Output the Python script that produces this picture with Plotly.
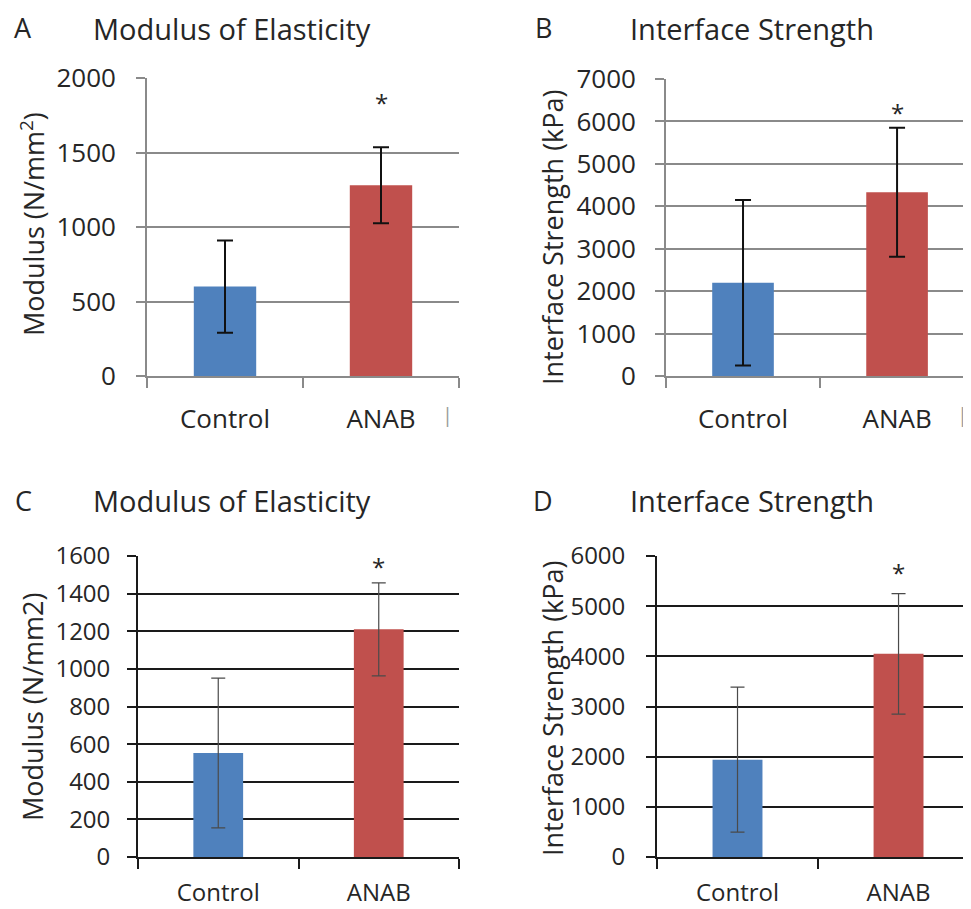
import plotly.graph_objects as go

# ---------------- data ----------------
categories = ["Control", "ANAB"]

a_means = [600, 1280]
a_err = [310, 255]
a_star = 1860

b_means = [2200, 4330]
b_err = [1950, 1520]
b_star = 6310

c_means = [553, 1210]
c_err = [398, 247]
c_star = 1563

d_means = [1940, 4050]
d_err = [1445, 1200]
d_star = 5760

bar_colors = ["#4F81BD", "#C0504D"]

panel_letters = ["A", "B", "C", "D"]
panel_titles = ["Modulus of Elasticity", "Interface Strength",
                "Modulus of Elasticity", "Interface Strength"]
y_titles = ["Modulus (N/mm<sup>2</sup>)", "Interface Strength (kPa)",
            "Modulus (N/mm2)", "Interface Strength (kPa)"]

# ---------------- layout helpers ----------------
OFF = 8                      # page body margin of the exported html
W, H = 971 - OFF, 909 - OFF  # figure size so that it ends at the window edge
FONT = "Open Sans"
TXT = "#262626"


def fx(p):
    return (p - OFF) / W


def fy(p):
    return 1 - (p - OFF) / H


panels = [
    dict(means=a_means, err=a_err, star=a_star, ymax=2000, dtick=500,
         xdom=[fx(147), fx(459)], ydom=[fy(376), fy(78)], xr=[-0.5, 1.5],
         grid="#8a8a8a", errc="#111111", errw=2.0, capw=8, barw=0.40,
         tfs=26, xfs=26, ystand=15, xstand=19),
    dict(means=b_means, err=b_err, star=b_star, ymax=7000, dtick=1000,
         xdom=[fx(666), 1.0], ydom=[fy(376), fy(79)], xr=[-0.5, 1.48],
         grid="#8a8a8a", errc="#111111", errw=2.0, capw=8, barw=0.40,
         tfs=26, xfs=26, ystand=14, xstand=19),
    dict(means=c_means, err=c_err, star=c_star, ymax=1600, dtick=200,
         xdom=[fx(138), fx(459)], ydom=[fy(857), fy(556)], xr=[-0.5, 1.5],
         grid="#1a1a1a", errc="#4a4a4a", errw=1.2, capw=7, barw=0.31,
         tfs=24, xfs=24, ystand=12, xstand=13),
    dict(means=d_means, err=d_err, star=d_star, ymax=6000, dtick=1000,
         xdom=[fx(657), 1.0], ydom=[fy(857), fy(556)], xr=[-0.5, 1.45],
         grid="#1a1a1a", errc="#4a4a4a", errw=1.2, capw=7, barw=0.31,
         tfs=24, xfs=24, ystand=16, xstand=13),
]

fig = go.Figure()
layout = dict(
    width=W, height=H, margin=dict(l=0, r=0, t=0, b=0, pad=0),
    paper_bgcolor="white", plot_bgcolor="white", showlegend=False,
    font=dict(family=FONT, color=TXT),
)
annotations = []

letter_pos = [(23, 27), (543, 27), (23, 500), (543, 500)]
title_pos = [(232, 28), (752, 28), (232, 500), (752, 500)]
ytitle_pos = [(32, 224), (552, 237), (32, 707), (552, 708)]

for i, p in enumerate(panels):
    sfx = "" if i == 0 else str(i + 1)
    xa, ya = "x" + sfx, "y" + sfx
    fig.add_trace(go.Bar(
        x=categories, y=p["means"], width=p["barw"],
        marker=dict(color=bar_colors, line=dict(width=0)),
        error_y=dict(type="data", array=p["err"], visible=True,
                     color=p["errc"], thickness=p["errw"], width=p["capw"]),
        xaxis=xa, yaxis=ya, hoverinfo="skip",
    ))
    layout["xaxis" + sfx] = dict(
        domain=p["xdom"], anchor=ya, type="category", range=p["xr"],
        automargin=False,
        showline=True, linecolor=p["grid"], linewidth=1.8,
        ticks="outside", tickson="boundaries", ticklen=10,
        tickcolor=p["grid"], tickwidth=1.8, showgrid=False,
        tickfont=dict(size=p["xfs"], color=TXT, family=FONT),
        ticklabelstandoff=p["xstand"],
    )
    layout["yaxis" + sfx] = dict(
        domain=p["ydom"], anchor=xa, range=[0, p["ymax"]], dtick=p["dtick"],
        automargin=False,
        showline=True, linecolor=p["grid"], linewidth=1.8,
        ticks="outside", ticklen=9, tickcolor=p["grid"], tickwidth=1.8,
        showgrid=True, gridcolor=p["grid"], gridwidth=1.8, zeroline=False,
        tickfont=dict(size=p["tfs"], color=TXT, family=FONT),
        ticklabelstandoff=p["ystand"],
    )
    # asterisk above ANAB
    annotations.append(dict(
        x=categories[1], y=p["star"], xref=xa, yref=ya, text="*",
        showarrow=False, font=dict(size=24, color=TXT, family=FONT),
        yanchor="middle", yshift=-4,
    ))
    lx, ly = letter_pos[i]
    annotations.append(dict(
        x=fx(lx), y=fy(ly), xref="paper", yref="paper", text=panel_letters[i],
        showarrow=False, font=dict(size=27, color=TXT, family=FONT),
        xanchor="center", yanchor="middle",
    ))
    tx, ty = title_pos[i]
    annotations.append(dict(
        x=fx(tx), y=fy(ty), xref="paper", yref="paper", text=panel_titles[i],
        showarrow=False, font=dict(size=29, color=TXT, family=FONT),
        xanchor="center", yanchor="middle",
    ))
    yx, yy = ytitle_pos[i]
    annotations.append(dict(
        x=fx(yx), y=fy(yy), xref="paper", yref="paper", text=y_titles[i],
        showarrow=False, textangle=-90,
        font=dict(size=27, color=TXT, family=FONT),
        xanchor="center", yanchor="middle",
    ))

# stray cut-off label marks in the top row
for sx in (447, 962):
    annotations.append(dict(
        x=fx(sx), y=fy(414), xref="paper", yref="paper", text="|",
        showarrow=False, font=dict(size=20, color="#9a9a9a", family=FONT),
        xanchor="center", yanchor="middle",
    ))

layout["annotations"] = annotations
fig.update_layout(**layout)
fig.write_html("out.html")
